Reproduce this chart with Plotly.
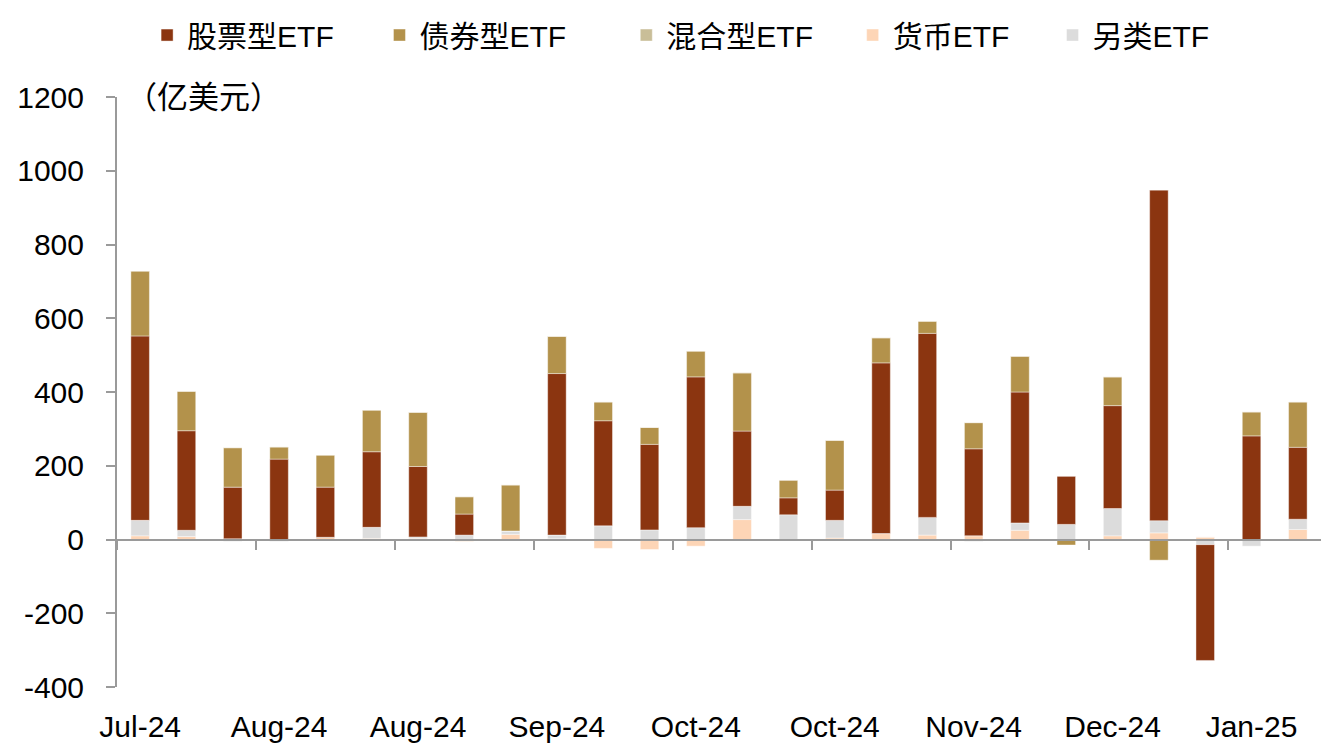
import plotly.graph_objects as go

# ---- data (亿美元), weekly ETF net flows ----
week_pos = list(range(26))
tick_pos = [0, 3, 6, 9, 12, 15, 18, 21, 24]
tick_text = ["Jul-24", "Aug-24", "Aug-24", "Sep-24", "Oct-24", "Oct-24", "Nov-24", "Dec-24", "Jan-25"]
y_ticks = [-400, -200, 0, 200, 400, 600, 800, 1000, 1200]
y_tick_text = ["-400", "-200", "0", "200", "400", "600", "800", "1000", "1200"]

money = [10, 8, 2, 0, 6, 3, 3, -5, 14, 2, -24, -27, -18, 54, 0, 4, 16, 12, 10, 25, 0, 10, 18, 7, 0, 27]
alternative = [42, 17, -5, -5, 0, 30, 4, 12, 9, 10, 37, 26, 32, 36, 67, 48, 0, 48, -5, 20, 41, 74, 33, -14, -18, 28]
equity = [500, 270, 140, 218, 136, 205, 191, 57, 0, 438, 285, 232, 409, 204, 46, 82, 463, 499, 236, 355, 131, 279, 897, -314, 281, 195]
bond = [176, 107, 107, 33, 87, 113, 147, 47, 125, 101, 51, 46, 70, 158, 48, 135, 68, 33, 71, 97, -15, 78, -56, 0, 65, 123]
mixed = [0, 0, 0, 0, 0, 0, 0, 0, 0, 0, 0, 0, 0, 0, 0, 0, 0, 0, 0, 0, 0, 0, 0, 0, 0, 0]

# (name, values, colour, legend id) -- stacking order bottom to top
series = [
    ("货币ETF", money, "#FDD5B6", "legend4"),
    ("另类ETF", alternative, "#DCDCDC", "legend5"),
    ("股票型ETF", equity, "#8B3510", "legend"),
    ("债券型ETF", bond, "#B3924B", "legend2"),
    ("混合型ETF", mixed, "#C9BE98", "legend3"),
]
legend_x = {"legend": 0.025, "legend2": 0.218, "legend3": 0.423, "legend4": 0.611, "legend5": 0.777}

FONT = "Liberation Sans, Arial, Noto Sans CJK SC, sans-serif"
AXIS = "#9a9a9a"

fig = go.Figure()
for name, vals, color, lg in series:
    fig.add_trace(go.Bar(
        x=week_pos, y=vals, name=name, legend=lg, showlegend=True,
        marker=dict(color=color, line=dict(color="rgba(255,255,255,0.7)", width=0.6)),
    ))

legend_common = dict(orientation="h", xanchor="left", y=1.105, yanchor="middle",
                     font=dict(size=30), bgcolor="rgba(0,0,0,0)", itemwidth=30)

fig.update_layout(
    width=1332, height=756, showlegend=True,
    barmode="relative", bargap=0.6,
    plot_bgcolor="white", paper_bgcolor="white",
    margin=dict(l=109, r=19, t=89, b=77, autoexpand=False),
    font=dict(family=FONT, size=30, color="#000000"),
    xaxis=dict(
        range=[-0.5, 25.5], anchor="free", position=0.25,
        tickmode="array", tickvals=tick_pos, ticktext=tick_text,
        ticks="", showline=True, linecolor=AXIS, linewidth=2,
        showgrid=False, zeroline=False, ticklabelstandoff=160,
        tickfont=dict(size=30),
        minor=dict(tickmode="linear", tick0=2.5, dtick=3, ticks="outside",
                   ticklen=9, tickwidth=2, tickcolor=AXIS, showgrid=False),
    ),
    yaxis=dict(
        range=[-400, 1200], tickmode="array", tickvals=y_ticks, ticktext=y_tick_text,
        showline=True, linecolor=AXIS, linewidth=2,
        ticks="outside", ticklen=9, tickwidth=2, tickcolor=AXIS,
        showgrid=False, zeroline=False, ticklabelstandoff=16,
        tickfont=dict(size=30),
    ),
    annotations=[dict(
        text="（亿美元）", xref="paper", yref="paper", x=0.006, y=1.0,
        xanchor="left", yanchor="middle", showarrow=False,
        font=dict(size=31, family=FONT),
    )],
)
for lg, lx in legend_x.items():
    fig.update_layout({lg: dict(legend_common, x=lx)})

fig.write_html("out.html")
